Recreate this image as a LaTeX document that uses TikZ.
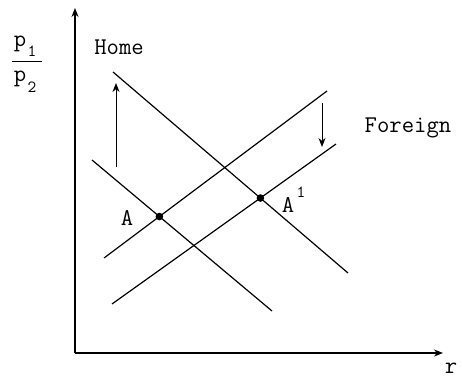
\documentclass[tikz,border=0pt]{standalone}
\usepackage{tikz}
\usetikzlibrary{arrows.meta}

\begin{document}
\begin{tikzpicture}[x=1pt,y=-1pt,>={Stealth[length=9pt,width=7pt]},line width=1.2pt,
    font=\fontsize{24}{28}\selectfont\ttfamily]
  \useasboundingbox (0,0) rectangle (462,379);

  % axes
  \coordinate (O) at (75,353);
  \coordinate (ytop) at (75,8);
  \coordinate (xend) at (443,353);
  \draw[->] (O) -- (ytop);
  \draw[->] (O) -- (xend);
  \node[anchor=base,inner sep=0] (rlab) at (451,373) {r};

  % price ratio p1/p2
  \node[anchor=base,inner sep=0] (p1) at (20,47) {p};
  \node[anchor=base,inner sep=0,font=\fontsize{17}{20}\selectfont\ttfamily] (s1) at (32,57) {1};
  \node[anchor=base,inner sep=0] (p2) at (20,82) {p};
  \node[anchor=base,inner sep=0,font=\fontsize{17}{20}\selectfont\ttfamily] (s2) at (32,93) {2};
  \coordinate (barl) at (12,62);
  \coordinate (barr) at (42,62);
  \draw[line width=1pt] (barl) -- (barr);

  % home curves (shift up)
  \coordinate (h1s) at (113,72);
  \coordinate (h1e) at (348,273);
  \coordinate (h2s) at (92,160);
  \coordinate (h2e) at (272,311);
  \draw (h1s) -- (h1e);
  \draw (h2s) -- (h2e);
  \node[anchor=base,inner sep=0] (home) at (119,55) {Home};

  % foreign curves (shift down)
  \coordinate (f1s) at (104,258);
  \coordinate (f1e) at (327,91);
  \coordinate (f2s) at (112,304);
  \coordinate (f2e) at (336,144);
  \draw (f1s) -- (f1e);
  \draw (f2s) -- (f2e);
  \node[anchor=base,inner sep=0] (foreign) at (408,133) {Foreign};

  % shift arrows
  \coordinate (upfrom) at (116,167);
  \coordinate (upto) at (116,83);
  \coordinate (dnfrom) at (322,103);
  \coordinate (dnto) at (322,147);
  \draw[->,line width=1pt] (upfrom) -- (upto);
  \draw[->,line width=1pt] (dnfrom) -- (dnto);

  % equilibria
  \coordinate (A) at (intersection of h2s--h2e and f1s--f1e);
  \coordinate (A1) at (intersection of h1s--h1e and f2s--f2e);
  \fill (A) circle (3.8);
  \fill (A1) circle (3.8);
  \node[anchor=base,inner sep=0] (Alab) at (127,225) {A};
  \node[anchor=base,inner sep=0] (A1lab) at (288,212) {A};
  \node[anchor=base,inner sep=0,font=\fontsize{17}{20}\selectfont\ttfamily] (A1sup) at (301,197) {1};
\end{tikzpicture}
\end{document}
